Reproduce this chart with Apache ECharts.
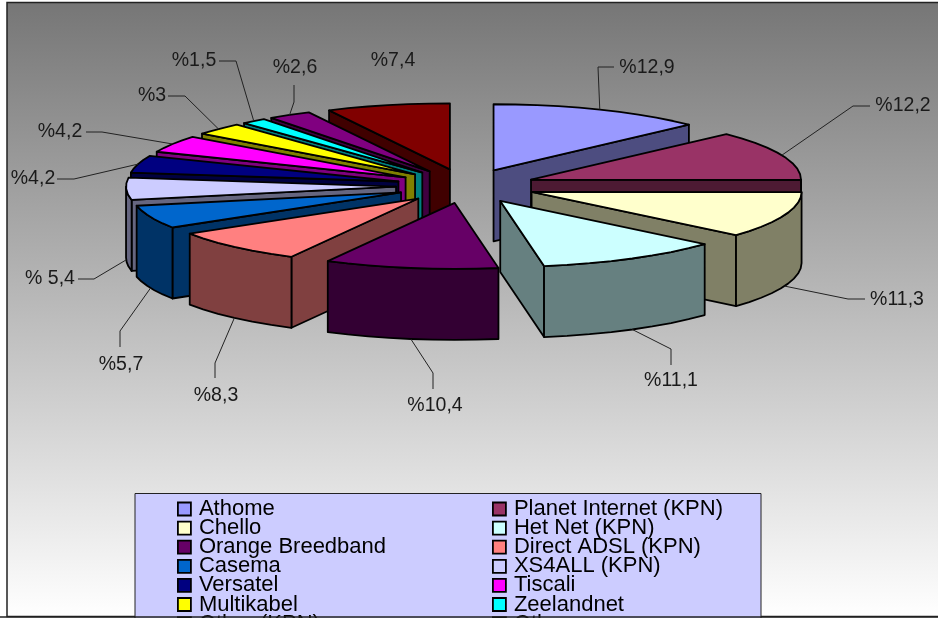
<!DOCTYPE html>
<html>
<head>
<meta charset="utf-8">
<style>html,body{margin:0;padding:0;background:#fff;overflow:hidden}#c{width:938px;height:618px}</style>
<script src="https://cdn.jsdelivr.net/npm/echarts@6/dist/echarts.min.js"></script>
</head>
<body>
<div id="c"></div>
<script>
const categories = ['Athome','Planet Internet (KPN)','Chello','Het Net (KPN)','Orange Breedband','Direct ADSL (KPN)','Casema','XS4ALL (KPN)','Versatel','Tiscali','Multikabel','Zeelandnet','Other (KPN)','Other'];
const shares = [12.9,12.2,11.3,11.1,10.4,8.3,5.7,5.4,4.2,4.2,3,1.5,2.6,7.4];
const valueLabels = ['%12,9','%12,2','%11,3','%11,1','%10,4','%8,3','%5,7','% 5,4','%4,2','%4,2','%3','%1,5','%2,6','%7,4'];
const colors = ['#9999FF','#993366','#FFFFCC','#CCFFFF','#660066','#FF8080','#0066CC','#CCCCFF','#000080','#FF00FF','#FFFF00','#00FFFF','#800080','#800000'];

// projection of the tilted pie
const PIE = {cx:466, cy:186, rx:270, ry:66, depth:71, explode:70};
// leader elbow, leader end, label centre for each slice (null = no leader)
const LABEL_LAYOUT = [
  {elbow:[598,67],  end:[614,67],  text:[647,68]},
  {elbow:[853,106], end:[870,106], text:[903,106]},
  {elbow:[848,299], end:[865,299], text:[897,300]},
  {elbow:[671,349], end:[671,365], text:[671,381]},
  {elbow:[433,373], end:[433,389], text:[435,406]},
  {elbow:[215,363], end:[215,378], text:[216,396]},
  {elbow:[120,331], end:[120,347], text:[121,365]},
  {elbow:[94,279],  end:[78,279],  text:[50,279]},
  {elbow:[74,179],  end:[57,179],  text:[33,179]},
  {elbow:[102,132], end:[86,132],  text:[60,132]},
  {elbow:[185,96],  end:[168,96],  text:[152,96]},
  {elbow:[236,61],  end:[219,61],  text:[194,61]},
  {elbow:[294,102], end:[294,85],  text:[295,68]},
  {text:[393,61]}
];

const total = shares.reduce((a,b)=>a+b,0);
const toRad = d => d*Math.PI/180;
let acc = 0;
const angles = shares.map(v => { const s = acc/total*360; acc += v; return {start:s, end:acc/total*360}; });

function apex(i){
  const m = toRad((angles[i].start+angles[i].end)/2);
  return [PIE.cx + PIE.explode*Math.sin(m), PIE.cy - PIE.explode*(PIE.ry/PIE.rx)*Math.cos(m)];
}
function rim(a, deg, drop){
  const t = toRad(deg);
  return [a[0]+PIE.rx*Math.sin(t), a[1]-PIE.ry*Math.cos(t)+(drop||0)];
}
function arc(a, from, to, drop){
  const n = Math.max(1, Math.ceil((to-from)/5)), pts = [];
  for(let k=0;k<=n;k++) pts.push(rim(a, from+(to-from)*k/n, drop));
  return pts;
}
function dark(hex){
  const n = parseInt(hex.slice(1),16);
  const c = [(n>>16)&255,(n>>8)&255,n&255].map(x=>Math.round(x/2));
  return 'rgb('+c.join(',')+')';
}
const edge = {stroke:'#000', lineWidth:1.8, lineJoin:'round'};
function face(points, fill){ return {type:'polygon', shape:{points}, style:Object.assign({fill}, edge)}; }

function sliceItem(i){
  return function(){
    const a = apex(i), s = angles[i].start, e = angles[i].end, side = dark(colors[i]), d = PIE.depth, ch = [];
    const cut = deg => face([a, rim(a,deg), rim(a,deg,d), [a[0],a[1]+d]], side);
    if (s>180) ch.push(cut(s));
    if (e<180) ch.push(cut(e));
    const wf = Math.max(s,90), wt = Math.min(e,270);
    if (wt>wf) ch.push(face(arc(a,wf,wt,0).concat(arc(a,wf,wt,d).reverse()), side));
    ch.push(face([a].concat(arc(a,s,e,0)), colors[i]));
    return {type:'group', children:ch};
  };
}
function labelItem(params, api){
  const i = api.value(0), l = LABEL_LAYOUT[i], ch = [];
  if (l.elbow){
    const a = apex(i), m = (angles[i].start+angles[i].end)/2;
    const front = Math.cos(toRad(m))<0;
    ch.push({type:'polyline', shape:{points:[rim(a,m,front?PIE.depth:0), l.elbow, l.end]}, style:{fill:'none', stroke:'#222', lineWidth:1}});
  }
  ch.push({type:'text', style:{text:valueLabels[i], x:l.text[0], y:l.text[1], align:'center', verticalAlign:'middle', fill:'#1a1a1a', font:'19.5px "Liberation Sans", Arial, sans-serif'}});
  return {type:'group', children:ch};
}

const order = shares.map((_,i)=>i).sort((p,q)=>apex(p)[1]-apex(q)[1]);
const series = order.map(i => ({
  type:'custom', name:categories[i], coordinateSystem:'none', silent:true,
  itemStyle:{color:colors[i]}, data:[[shares[i]]], renderItem:sliceItem(i)
}));
series.push({type:'custom', name:'labels', coordinateSystem:'none', silent:true, data:shares.map((_,i)=>[i]), renderItem:labelItem});

const legendEntry = i => ({name:categories[i], icon:'rect', itemStyle:{color:colors[i], borderColor:'#000', borderWidth:1.8}});
const legendBase = {orient:'vertical', top:498, height:300, padding:0, itemWidth:13, itemHeight:13, itemGap:-2.9, selectedMode:false, z:6,
  textStyle:{color:'#000', fontFamily:'"Liberation Sans", Arial, sans-serif', fontSize:22, padding:[0,0,0,3]}};

const chart = echarts.init(document.getElementById('c'), null, {renderer:'canvas'});
chart.setOption({
  animation:false,
  backgroundColor:'#fff',
  graphic:[
    {type:'rect', z:-10, shape:{x:7,y:2.5,width:940,height:614}, style:{fill:new echarts.graphic.LinearGradient(0,0,0,1,[{offset:0,color:'#767676'},{offset:1,color:'#ffffff'}]), stroke:'#222', lineWidth:1.5}},
    {type:'rect', z:5, shape:{x:135,y:493.5,width:626,height:130}, style:{fill:'#CCCCFF', stroke:'#222', lineWidth:1}},
    {type:'line', z:50, shape:{x1:0,y1:617,x2:938,y2:617}, style:{stroke:'#222', lineWidth:1.5}}
  ],
  legend:[
    Object.assign({}, legendBase, {left:177, data:categories.map((_,i)=>i).filter(i=>i%2===0).map(legendEntry)}),
    Object.assign({}, legendBase, {left:492, data:categories.map((_,i)=>i).filter(i=>i%2===1).map(legendEntry)})
  ],
  series
});
</script>
</body>
</html>
